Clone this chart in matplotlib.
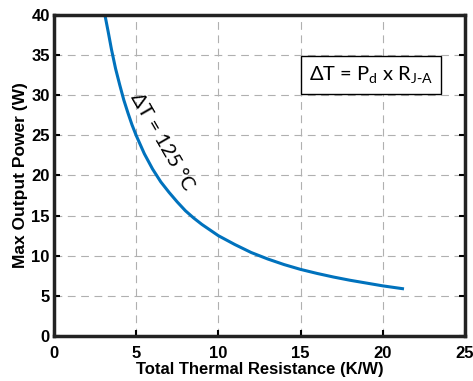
import matplotlib.pyplot as plt

# thermal resistance (K/W) vs max output power (W), read at dT = 125 C
r_th = [3.1, 3.3, 3.5, 3.75, 4.0, 4.25, 4.5, 4.75, 5.0, 5.5, 6.0, 6.5, 7.0,
        7.5, 8.0, 8.5, 9.0, 9.5, 10.0, 11.0, 12.0, 13.0, 14.0, 15.0, 16.0,
        17.0, 18.0, 19.0, 20.0, 21.2]
p_max = [40.0, 37.9, 35.7, 33.3, 31.3, 29.4, 27.8, 26.3, 25.0, 22.7, 20.8,
         19.2, 17.9, 16.7, 15.6, 14.7, 13.9, 13.2, 12.5, 11.4, 10.4, 9.6,
         8.9, 8.3, 7.8, 7.35, 6.95, 6.6, 6.25, 5.9]

xticks = [0, 5, 10, 15, 20, 25]
yticks = [0, 5, 10, 15, 20, 25, 30, 35, 40]

plt.rcParams['font.family'] = ['Liberation Sans', 'DejaVu Sans']

fig = plt.figure(figsize=(4.73, 3.81), dpi=100)
ax = fig.add_axes([0.114, 0.118, 0.869, 0.843])

ax.plot(r_th, p_max, color='#0072BD', lw=2.2)

ax.set_xlim(0, 25)
ax.set_ylim(0, 40)
ax.set_xticks(xticks)
ax.set_yticks(yticks)
ax.grid(True, ls=(0, (7, 5)), color='#b0b0b0', lw=0.8)
ax.tick_params(direction='in', length=4, width=1.5, right=True, top=False,
               labelsize=12, pad=3)
ax.tick_params(axis='x', pad=7)
for lbl in ax.get_xticklabels() + ax.get_yticklabels():
    lbl.set_fontweight('bold')
for s in ax.spines.values():
    s.set_linewidth(2.5)
    s.set_color('#222222')

ax.set_xlabel('Total Thermal Resistance (K/W)', fontsize=12, fontweight='bold', labelpad=1)
ax.set_ylabel('Max Output Power (W)', fontsize=12.5, fontweight='bold', labelpad=2)

ax.text(6.6, 24.2, 'ΔT = 125 °C', rotation=-60, fontsize=14.5,
        family=['Lato', 'DejaVu Sans'],
        ha='center', va='center', rotation_mode='anchor')
ax.text(19.3, 32.5, r'ΔT = P$_\mathregular{d}$ x R$_\mathregular{J\text{-}A}$', fontsize=14.5,
        family=['Lato', 'DejaVu Sans'], ha='center', va='center',
        bbox=dict(boxstyle='square,pad=0.4', fc='white', ec='black', lw=1))

fig.savefig('out.png', dpi=100)
